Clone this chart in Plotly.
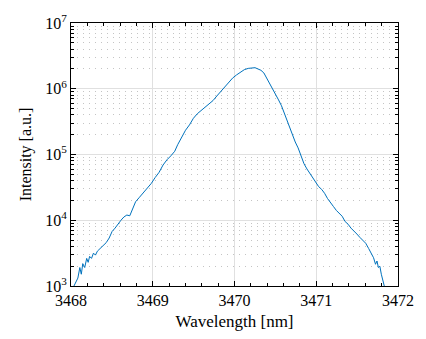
import plotly.graph_objects as go

wavelength = [
    3468.036, 3468.060, 3468.084, 3468.108, 3468.126, 3468.144, 3468.168, 3468.192, 3468.210, 3468.228,
    3468.251, 3468.275, 3468.299, 3468.323, 3468.359, 3468.395, 3468.431, 3468.467, 3468.503, 3468.539,
    3468.575, 3468.611, 3468.647, 3468.683, 3468.719, 3468.754, 3468.790, 3468.838, 3468.886, 3468.934,
    3468.982, 3469.030, 3469.078, 3469.126, 3469.174, 3469.222, 3469.269, 3469.305, 3469.353, 3469.401,
    3469.449, 3469.497, 3469.545, 3469.593, 3469.641, 3469.689, 3469.737, 3469.784, 3469.832, 3469.880,
    3469.928, 3469.976, 3470.024, 3470.072, 3470.120, 3470.168, 3470.216, 3470.251, 3470.287, 3470.323,
    3470.359, 3470.395, 3470.431, 3470.467, 3470.503, 3470.539, 3470.575, 3470.611, 3470.647, 3470.683,
    3470.707, 3470.743, 3470.778, 3470.814, 3470.850, 3470.886, 3470.922, 3470.958, 3470.994, 3471.030,
    3471.066, 3471.102, 3471.138, 3471.174, 3471.210, 3471.246, 3471.281, 3471.317, 3471.353, 3471.389,
    3471.425, 3471.461, 3471.497, 3471.533, 3471.569, 3471.605, 3471.641, 3471.677, 3471.701, 3471.725,
    3471.743, 3471.760, 3471.778, 3471.796, 3471.820, 3471.832,
]

intensity = [
    1.00e3, 1.12e3, 1.32e3, 1.91e3, 1.51e3, 2.19e3, 1.91e3, 2.63e3, 2.29e3, 2.82e3,
    2.63e3, 3.16e3, 2.95e3, 3.39e3, 3.72e3, 4.17e3, 4.57e3, 5.37e3, 6.76e3, 7.59e3,
    8.91e3, 1.00e4, 1.12e4, 1.20e4, 1.17e4, 1.48e4, 1.91e4, 2.24e4, 2.63e4, 3.09e4,
    3.63e4, 4.47e4, 5.37e4, 6.92e4, 8.32e4, 9.55e4, 1.12e5, 1.41e5, 1.86e5, 2.34e5,
    2.82e5, 3.55e5, 4.17e5, 4.68e5, 5.13e5, 5.75e5, 6.61e5, 7.76e5, 9.12e5, 1.05e6,
    1.26e6, 1.45e6, 1.62e6, 1.78e6, 1.95e6, 2.04e6, 2.04e6, 2.09e6, 2.00e6, 1.91e6,
    1.74e6, 1.45e6, 1.20e6, 1.00e6, 8.32e5, 6.76e5, 5.50e5, 4.17e5, 3.24e5, 2.40e5,
    2.00e5, 1.55e5, 1.26e5, 9.55e4, 7.24e4, 6.03e4, 5.13e4, 4.27e4, 3.72e4, 3.24e4,
    2.95e4, 2.57e4, 2.14e4, 1.82e4, 1.62e4, 1.41e4, 1.26e4, 1.15e4, 9.55e3, 8.71e3,
    7.59e3, 6.92e3, 6.17e3, 5.50e3, 5.01e3, 4.47e3, 3.72e3, 3.02e3, 2.69e3, 2.14e3,
    2.40e3, 1.91e3, 2.00e3, 1.51e3, 1.15e3, 1.00e3,
]

x_ticks = [3468, 3469, 3470, 3471, 3472]
x_tick_labels = ["3468", "3469", "3470", "3471", "3472"]
y_ticks = [1e3, 1e4, 1e5, 1e6, 1e7]
y_tick_labels = ["10<sup>3</sup>", "10<sup>4</sup>", "10<sup>5</sup>", "10<sup>6</sup>", "10<sup>7</sup>"]
y_minor = [m * 10 ** e for e in range(3, 7) for m in range(2, 10)]

font_family = "Liberation Serif, DejaVu Serif, serif"

fig = go.Figure()
fig.add_trace(go.Scatter(
    x=wavelength, y=intensity, mode="lines",
    line=dict(color="#0072BD", width=1),
    showlegend=False,
))

fig.update_layout(
    width=426, height=339,
    margin=dict(l=71, r=21, t=16, b=49),
    paper_bgcolor="white", plot_bgcolor="white",
    font=dict(family=font_family, size=16, color="black"),
)

fig.update_xaxes(
    range=[3468, 3472],
    tickvals=x_ticks, ticktext=x_tick_labels,
    ticks="inside", ticklen=5, tickwidth=1, tickcolor="black",
    showline=True, linecolor="black", linewidth=1, mirror="ticks",
    showgrid=True, gridcolor="#e0e0e0", gridwidth=1,
    zeroline=False, ticklabeloverflow="allow",
    minor=dict(dtick=0.2, ticks="inside", ticklen=3, tickcolor="black", showgrid=False),
    title=dict(text="Wavelength [nm]", font=dict(size=17), standoff=6),
    tickfont=dict(size=16),
)

fig.update_yaxes(
    type="log", range=[3, 7],
    tickvals=y_ticks, ticktext=y_tick_labels,
    ticks="inside", ticklen=5, tickwidth=1, tickcolor="black",
    showline=True, linecolor="black", linewidth=1, mirror="ticks",
    showgrid=True, gridcolor="#e0e0e0", gridwidth=1,
    zeroline=False, ticklabeloverflow="allow",
    minor=dict(tickvals=y_minor, ticks="inside", ticklen=3, tickcolor="black",
               showgrid=True, gridcolor="#c4c4c4", griddash="1px,5px", gridwidth=1),
    title=dict(text="Intensity [a.u.]", font=dict(size=16), standoff=9),
    tickfont=dict(size=16),
)

fig.write_html(
    "out.html",
    config={"displayModeBar": False},
    post_script="document.body.style.margin='0';document.body.style.overflow='hidden';",
)
